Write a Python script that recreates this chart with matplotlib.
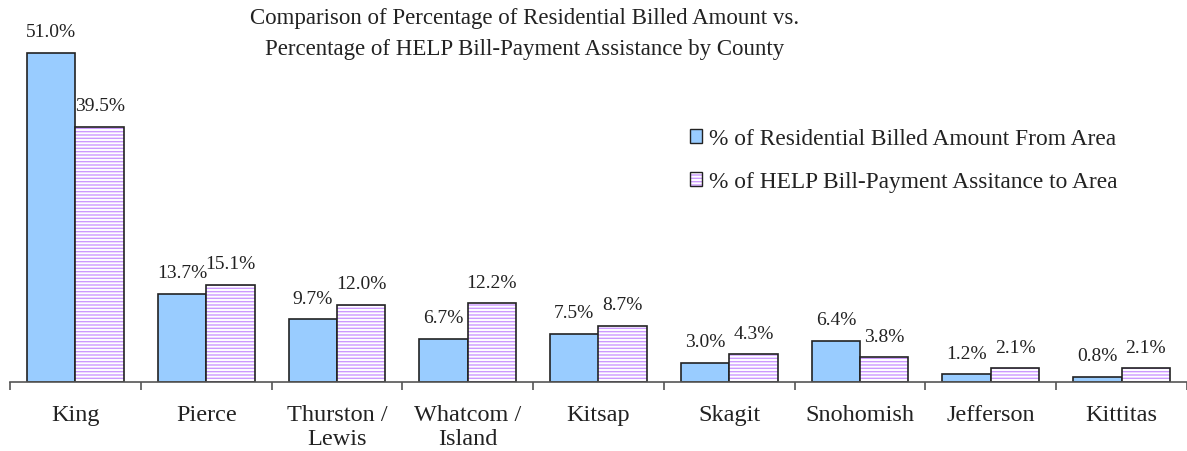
import matplotlib
matplotlib.use("Agg")
import matplotlib.pyplot as plt
import numpy as np
from matplotlib.patches import Patch

categories = ["King", "Pierce", "Thurston /\nLewis", "Whatcom /\nIsland", "Kitsap",
              "Skagit", "Snohomish", "Jefferson", "Kittitas"]
billed = [51.0, 13.7, 9.7, 6.7, 7.5, 3.0, 6.4, 1.2, 0.8]
assist = [39.5, 15.1, 12.0, 12.2, 8.7, 4.3, 3.8, 2.1, 2.1]
series_names = ["% of Residential Billed Amount From Area",
                "% of HELP Bill-Payment Assitance to Area"]
title = "Comparison of Percentage of Residential Billed Amount vs.\nPercentage of HELP Bill-Payment Assistance by County"

plt.rcParams['font.family'] = ['Liberation Serif', 'DejaVu Serif']
plt.rcParams['hatch.linewidth'] = 1.0

fig = plt.figure(figsize=(11.87, 4.52), dpi=100)
ax = fig.add_axes([10/1187, 1 - 383/452, 1 - 10/1187, (383 - 28)/452])

x = np.arange(len(categories))
w = 0.37
blue = "#99CCFF"
violet = "#CC99FF"
dark = "#222222"

ax.bar(x - w/2, billed, w, color=blue, edgecolor=dark, linewidth=1.2)
ax.bar(x + w/2, assist, w, color="white", edgecolor=violet, hatch="-----", linewidth=0)
ax.bar(x + w/2, assist, w, color="none", edgecolor=dark, linewidth=1.2)

for xi, v in zip(x - w/2, billed):
    ax.annotate(f"{v:.1f}%", (xi, v), xytext=(0, 12), textcoords="offset points",
                ha="center", va="baseline", fontsize=14, color=dark)
for xi, v in zip(x + w/2, assist):
    ax.annotate(f"{v:.1f}%", (xi, v), xytext=(0, 12), textcoords="offset points",
                ha="center", va="baseline", fontsize=14, color=dark)

ax.set_xlim(-0.5, len(categories) - 0.5)
ax.set_ylim(0, 55)
ax.set_yticks([])
for s in ["left", "right", "top"]:
    ax.spines[s].set_visible(False)
ax.spines["bottom"].set_color("#555555")
ax.spines["bottom"].set_linewidth(1.2)

ax.set_xticks(np.arange(-0.5, len(categories)), minor=False)
ax.set_xticklabels([])
ax.tick_params(axis="x", which="major", length=6, width=1.2, color="#555555", direction="out")
ax.set_xticks(x, minor=True)
ax.set_xticklabels(categories, minor=True, fontsize=17.5, color=dark, linespacing=1.2)
ax.tick_params(axis="x", which="minor", length=0, pad=16)

fig.text(525/1187, 1 - 34/452, title, ha="center", va="center", fontsize=16.5,
         color=dark, linespacing=1.6)

h1 = Patch(facecolor=blue, edgecolor=dark, linewidth=1.0)
h2 = (Patch(facecolor="white", edgecolor=violet, hatch="-----", linewidth=0),
      Patch(facecolor="none", edgecolor=dark, linewidth=1.0))
leg = ax.legend([h1, h2], series_names, loc="upper left",
                bbox_to_anchor=(686/1187 - 10/1187, (383 - 120)/355),
                frameon=False, fontsize=16.8, handlelength=0.55, handleheight=0.55,
                handletextpad=0.3, labelspacing=0.95, borderaxespad=0)
for t in leg.get_texts():
    t.set_color(dark)

fig.savefig("out.png", dpi=100)
